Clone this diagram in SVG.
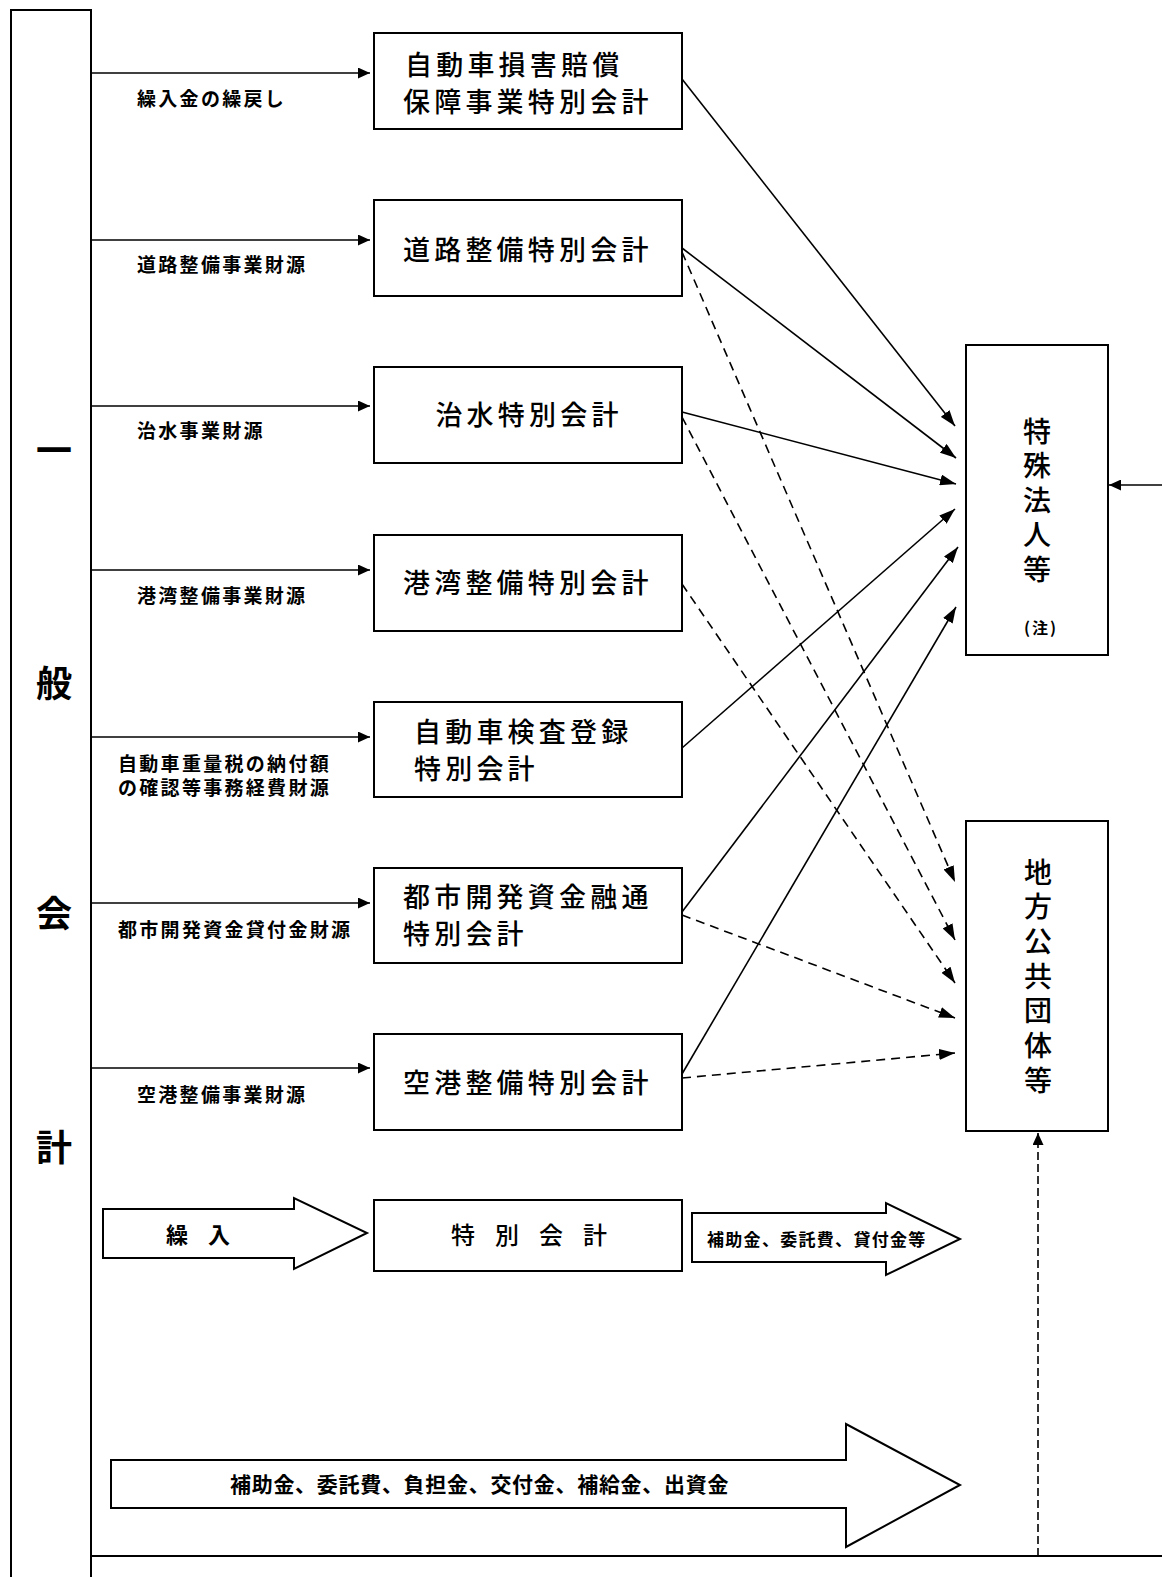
<svg xmlns="http://www.w3.org/2000/svg" width="1162" height="1577" viewBox="0 0 1162 1577">
  <defs>
    <style>
      text { font-family: "Noto Sans CJK JP", "Noto Sans CJK SC", sans-serif; fill: #000; dominant-baseline: central; }
      .box { fill: #fff; stroke: #000; stroke-width: 2; }
      .frame { fill: none; stroke: #000; stroke-width: 2; }
      .bt { font-size: 27px; font-weight: 500; letter-spacing: 4.2px; }
      .vt { font-size: 28px; font-weight: 500; writing-mode: vertical-rl; text-orientation: upright; }
      .gen { font-size: 36px; font-weight: 700; text-anchor: middle; }
      .lbl { font-size: 19px; font-weight: 700; letter-spacing: 2.3px; }
      .ln { fill: none; stroke: #000; stroke-width: 1.6; }
      .dash { stroke-dasharray: 9 6; }
      .vdash { stroke-dasharray: 8 4; }
      .fat { fill: #fff; stroke: #000; stroke-width: 2; stroke-linejoin: miter; }
    </style>
    <marker id="arrSmall" markerUnits="userSpaceOnUse" markerWidth="12" markerHeight="11" refX="12" refY="5.5" orient="auto">
      <path d="M0,0 L12,5.5 L0,11 z" fill="#000"/>
    </marker>
    <marker id="arrBig" markerUnits="userSpaceOnUse" markerWidth="16" markerHeight="11" refX="16" refY="5.5" orient="auto">
      <path d="M0,0 L16,5.5 L0,11 z" fill="#000"/>
    </marker>
  </defs>

  <rect width="1162" height="1577" fill="#fff"/>

  <!-- General account column and bottom rule -->
  <g id="general-account">
    <path class="frame" d="M11,1577 V10 H91 V1577"/>
    <line class="frame" x1="91" y1="1556" x2="1162" y2="1556"/>
    <text class="gen" x="54" y="448">一</text>
    <text class="gen" x="54" y="681">般</text>
    <text class="gen" x="54" y="911">会</text>
    <text class="gen" x="54" y="1145">計</text>
  </g>

  <!-- Special accounts -->
  <g id="node-jibaiseki">
    <rect class="box" x="374" y="33" width="308" height="96"/>
    <text class="bt"><tspan x="405" y="63">自動車損害賠償</tspan><tspan x="403" y="100">保障事業特別会計</tspan></text>
  </g>
  <g id="node-douro">
    <rect class="box" x="374" y="200" width="308" height="96"/>
    <text class="bt" x="403" y="248">道路整備特別会計</text>
  </g>
  <g id="node-chisui">
    <rect class="box" x="374" y="367" width="308" height="96"/>
    <text class="bt" x="529" y="413" text-anchor="middle">治水特別会計</text>
  </g>
  <g id="node-kouwan">
    <rect class="box" x="374" y="535" width="308" height="96"/>
    <text class="bt" x="403" y="581">港湾整備特別会計</text>
  </g>
  <g id="node-kensa">
    <rect class="box" x="374" y="702" width="308" height="95"/>
    <text class="bt"><tspan x="414" y="730">自動車検査登録</tspan><tspan x="414" y="767">特別会計</tspan></text>
  </g>
  <g id="node-toshi">
    <rect class="box" x="374" y="868" width="308" height="95"/>
    <text class="bt"><tspan x="403" y="895">都市開発資金融通</tspan><tspan x="403" y="932">特別会計</tspan></text>
  </g>
  <g id="node-kuukou">
    <rect class="box" x="374" y="1034" width="308" height="96"/>
    <text class="bt" x="403" y="1081">空港整備特別会計</text>
  </g>

  <!-- Recipients -->
  <g id="node-tokushu">
    <rect class="box" x="966" y="345" width="142" height="310"/>
    <text class="vt" x="1037" y="417" letter-spacing="6.5">特殊法人等</text>
    <text x="1041" y="627" font-size="16" font-weight="700" letter-spacing="2" text-anchor="middle">(注)</text>
  </g>
  <g id="node-chihou">
    <rect class="box" x="966" y="821" width="142" height="310"/>
    <text class="vt" x="1038" y="858" letter-spacing="6.7">地方公共団体等</text>
  </g>

  <!-- Legend row -->
  <g id="legend-kuriire">
    <path class="fat" d="M103,1209 H294 V1198 L367,1233 L294,1269 V1258 H103 z"/>
    <text x="166" y="1233" font-size="22" font-weight="700" letter-spacing="20">繰入</text>
  </g>
  <g id="legend-special">
    <rect class="box" x="374" y="1200" width="308" height="71"/>
    <text x="451" y="1233" font-size="24" font-weight="500" letter-spacing="20">特別会計</text>
  </g>
  <g id="legend-out">
    <path class="fat" d="M692,1213 H886 V1203 L960,1239 L886,1275 V1262 H692 z"/>
    <text x="707" y="1238" font-size="17" font-weight="700" letter-spacing="1.3">補助金、委託費、貸付金等</text>
  </g>
  <g id="direct-grants">
    <path class="fat" d="M111,1460 H846 V1424 L960,1485 L846,1547 V1508 H111 z"/>
    <text x="230" y="1483" font-size="21" font-weight="700" letter-spacing="0.7">補助金、委託費、負担金、交付金、補給金、出資金</text>
  </g>

  <!-- Labels on the transfers from the general account -->
  <g id="labels">
    <text class="lbl" x="137" y="97">繰入金の繰戻し</text>
    <text class="lbl" x="137" y="263">道路整備事業財源</text>
    <text class="lbl" x="137" y="429">治水事業財源</text>
    <text class="lbl" x="137" y="594">港湾整備事業財源</text>
    <text class="lbl"><tspan x="118" y="762">自動車重量税の納付額</tspan><tspan x="118" y="786">の確認等事務経費財源</tspan></text>
    <text class="lbl" x="118" y="928">都市開発資金貸付金財源</text>
    <text class="lbl" x="137" y="1093">空港整備事業財源</text>
  </g>

  <g id="connectors">
    <!-- transfers into each special account -->
    <line class="ln" x1="91" y1="73" x2="370" y2="73" marker-end="url(#arrSmall)"/>
    <line class="ln" x1="91" y1="240" x2="370" y2="240" marker-end="url(#arrSmall)"/>
    <line class="ln" x1="91" y1="406" x2="370" y2="406" marker-end="url(#arrSmall)"/>
    <line class="ln" x1="91" y1="570" x2="370" y2="570" marker-end="url(#arrSmall)"/>
    <line class="ln" x1="91" y1="737" x2="370" y2="737" marker-end="url(#arrSmall)"/>
    <line class="ln" x1="91" y1="903" x2="370" y2="903" marker-end="url(#arrSmall)"/>
    <line class="ln" x1="91" y1="1068" x2="370" y2="1068" marker-end="url(#arrSmall)"/>

    <!-- special accounts to special corporations (solid) -->
    <line class="ln" x1="682" y1="79" x2="955" y2="426" marker-end="url(#arrBig)"/>
    <line class="ln" x1="682" y1="248" x2="956" y2="458" marker-end="url(#arrBig)"/>
    <line class="ln" x1="682" y1="412" x2="956" y2="484" marker-end="url(#arrBig)"/>
    <line class="ln" x1="682" y1="748" x2="955" y2="509" marker-end="url(#arrBig)"/>
    <line class="ln" x1="682" y1="912" x2="958" y2="547" marker-end="url(#arrBig)"/>
    <line class="ln" x1="682" y1="1074" x2="956" y2="607" marker-end="url(#arrBig)"/>

    <!-- special accounts to local governments (dashed) -->
    <line class="ln dash" x1="682" y1="252" x2="955" y2="882" marker-end="url(#arrBig)"/>
    <line class="ln dash" x1="682" y1="417" x2="955" y2="940" marker-end="url(#arrBig)"/>
    <line class="ln dash" x1="682" y1="584" x2="955" y2="983" marker-end="url(#arrBig)"/>
    <line class="ln dash" x1="682" y1="915" x2="955" y2="1018" marker-end="url(#arrBig)"/>
    <line class="ln dash" x1="682" y1="1078" x2="955" y2="1053" marker-end="url(#arrBig)"/>

    <!-- from the right margin into special corporations -->
    <line class="ln" x1="1162" y1="485" x2="1109" y2="485" marker-end="url(#arrSmall)"/>
    <!-- from the bottom rule up to local governments -->
    <line class="ln vdash" x1="1038" y1="1556" x2="1038" y2="1133" marker-end="url(#arrSmall)"/>
  </g>
</svg>
